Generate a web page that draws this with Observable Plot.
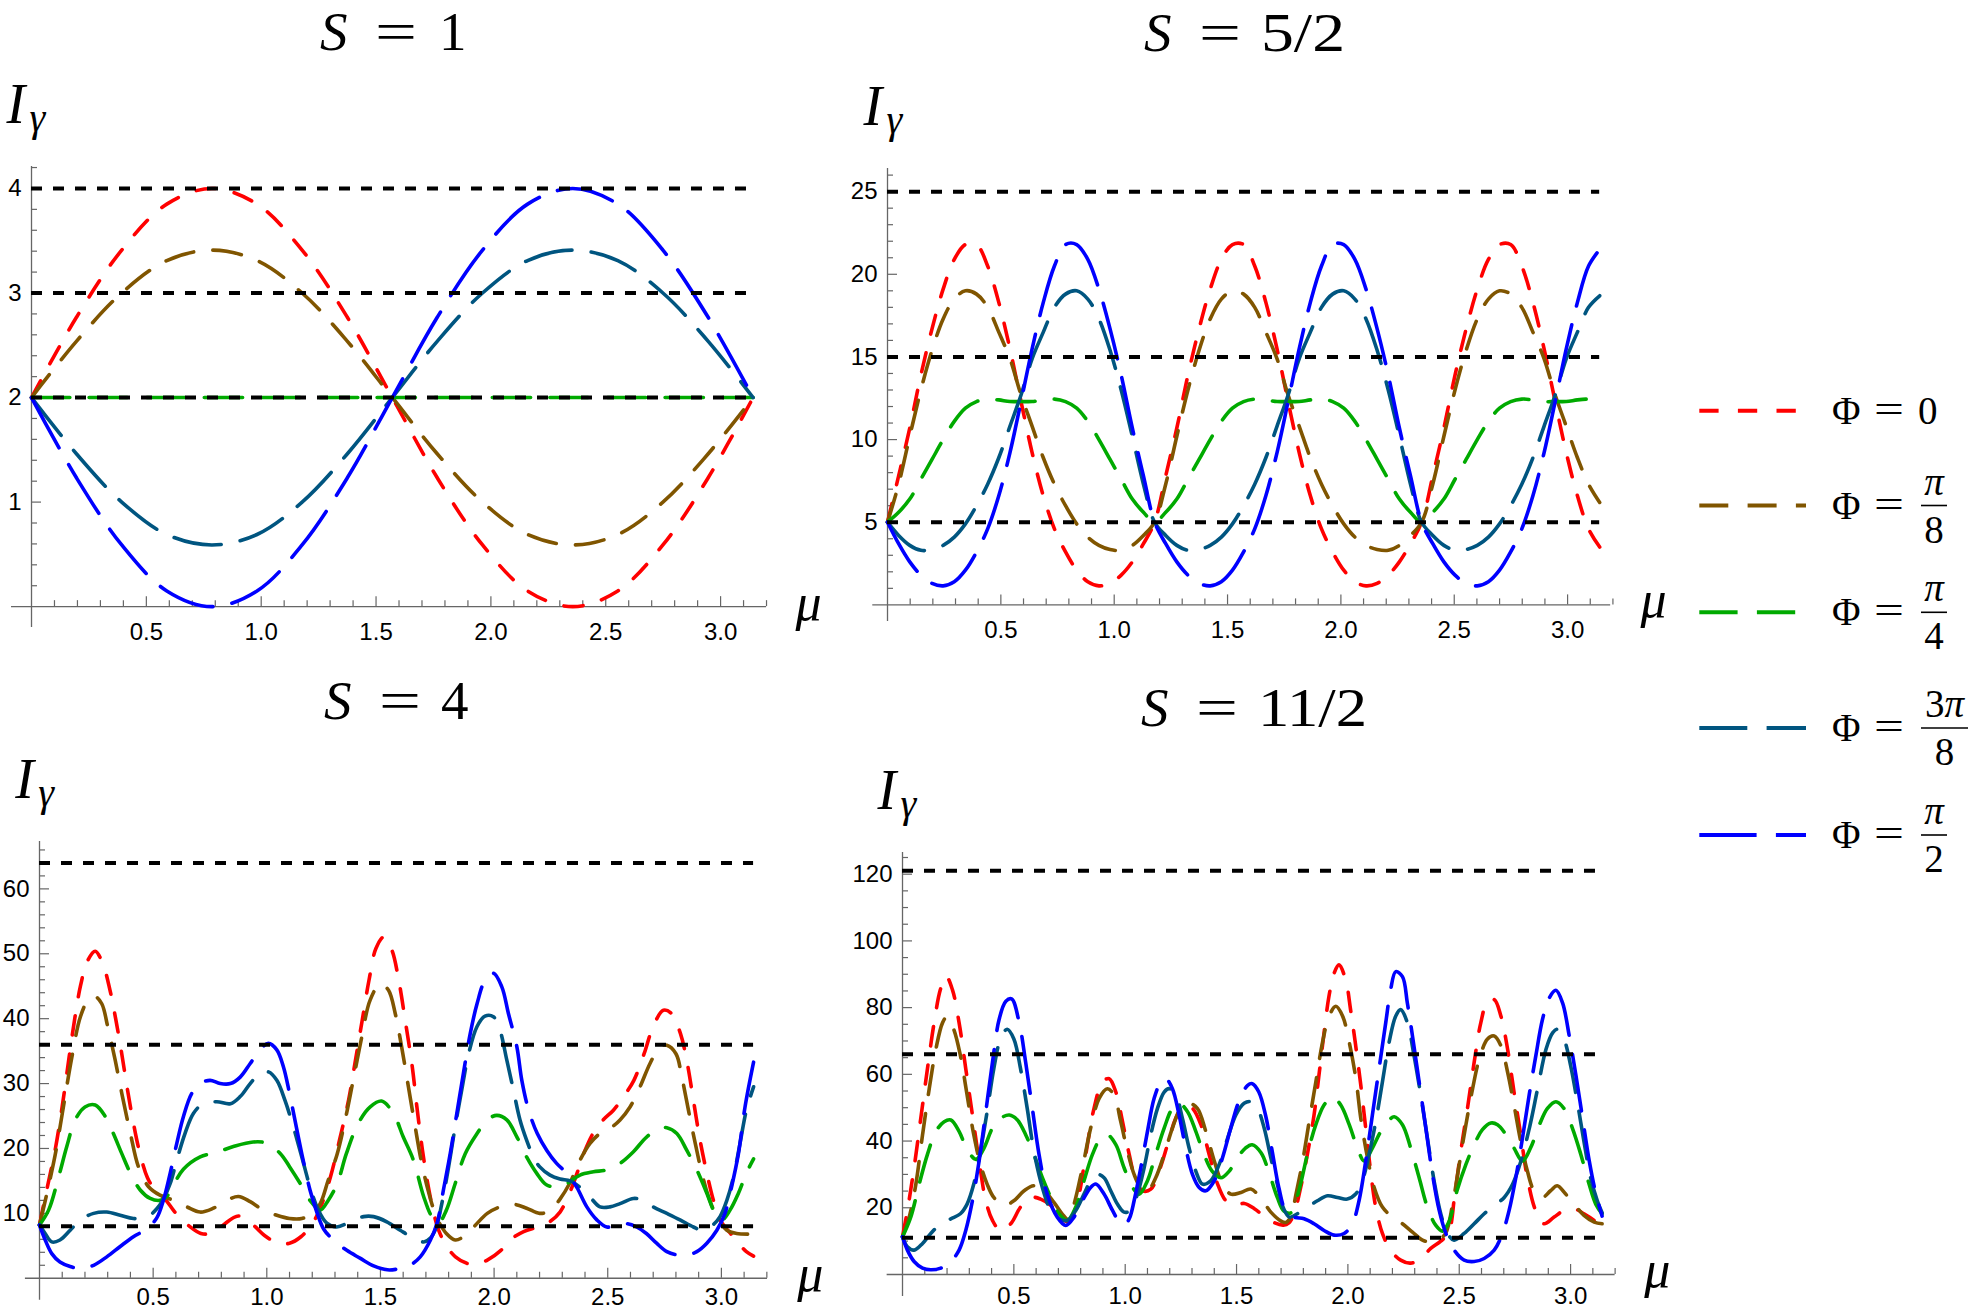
<!DOCTYPE html>
<html><head><meta charset="utf-8">
<script src="https://cdn.jsdelivr.net/npm/d3@7"></script>
<script src="https://cdn.jsdelivr.net/npm/@observablehq/plot@0.6"></script>
<style>
html,body{margin:0;padding:0;background:#fff;}
#page{position:relative;width:1970px;height:1312px;overflow:hidden;background:#fff;}
#page svg{overflow:visible;}
</style></head><body><div id="page"></div>
<script>
// ---------------- DATA ----------------
const phiLabels = ["0", "π/8", "π/4", "3π/8", "π/2"];
const xMajorTicks = [0.5, 1.0, 1.5, 2.0, 2.5, 3.0];

// S = 1
const s1_mu = [0, 0.19635, 0.3927, 0.58905, 0.7854, 0.98175, 1.1781, 1.37445, 1.5708, 1.76715, 1.9635, 2.15985, 2.3562, 2.55255, 2.7489, 2.94525, 3.14159];
const s1_red   = [2.0, 2.77, 3.41, 3.85, 4.0, 3.85, 3.41, 2.77, 2.0, 1.23, 0.59, 0.15, 0.0, 0.15, 0.59, 1.23, 2.0];
const s1_brown = [2.0, 2.54, 3.0, 3.31, 3.41, 3.31, 3.0, 2.54, 2.0, 1.46, 1.0, 0.69, 0.59, 0.69, 1.0, 1.46, 2.0];
const s1_green = [2.0, 2.0, 2.0, 2.0, 2.0, 2.0, 2.0, 2.0, 2.0, 2.0, 2.0, 2.0, 2.0, 2.0, 2.0, 2.0, 2.0];
const s1_teal  = [2.0, 1.46, 1.0, 0.69, 0.59, 0.69, 1.0, 1.46, 2.0, 2.54, 3.0, 3.31, 3.41, 3.31, 3.0, 2.54, 2.0];
const s1_blue  = [2.0, 1.23, 0.59, 0.15, 0.0, 0.15, 0.59, 1.23, 2.0, 2.77, 3.41, 3.85, 4.0, 3.85, 3.41, 2.77, 2.0];
const s1_levels = [2, 3, 4];
const s1_yTicks = [1, 2, 3, 4];

// S = 5/2  (samples every π/64)
const s52_mu = d3.range(65).map(k => k * Math.PI / 64);
const s52_red = [5.0,7.8,10.7,13.9,16.7,19.1,20.9,21.8,21.8,20.5,18.3,15.5,12.3,9.2,6.6,4.6,3.2,2.1,1.4,1.15,1.3,1.8,2.6,3.7,5.0,
 7.8,10.7,13.9,16.7,19.1,20.9,21.8,21.8,20.5,18.3,15.5,12.3,9.2,6.6,4.6,3.2,2.1,1.4,1.15,1.3,1.8,2.6,3.7,5.0,
 7.8,10.7,13.9,16.7,19.1,20.9,21.8,21.8,20.5,18.3,15.5,12.3,9.2,6.6,4.6,3.5];
const s52_brown = [5.0,7.3,10.2,13.0,15.4,17.3,18.5,19.0,18.8,18.0,16.5,14.9,12.7,10.8,8.9,7.3,6.0,4.9,4.1,3.6,3.35,3.3,3.6,4.2,5.0,
 7.3,10.2,13.0,15.4,17.3,18.5,19.0,18.8,18.0,16.5,14.9,12.7,10.8,8.9,7.3,6.0,4.9,4.1,3.6,3.35,3.3,3.6,4.2,5.0,
 7.3,10.2,13.0,15.4,17.3,18.5,19.0,18.8,18.0,16.5,14.9,12.7,10.8,8.9,7.3,6.2];
const s52_green = [5.0,5.6,6.4,7.6,8.8,10.0,11.1,11.9,12.3,12.45,12.4,12.3,12.3,12.3,12.4,12.45,12.3,11.9,11.1,10.0,8.8,7.6,6.4,5.6,5.0,
 5.6,6.4,7.6,8.8,10.0,11.1,11.9,12.3,12.45,12.4,12.3,12.3,12.3,12.4,12.45,12.3,11.9,11.1,10.0,8.8,7.6,6.4,5.6,5.0,
 5.6,6.4,7.6,8.8,10.0,11.1,11.9,12.3,12.45,12.4,12.3,12.3,12.3,12.4,12.45,12.4];
const s52_teal = [5.0,4.2,3.6,3.3,3.35,3.6,4.1,4.9,6.0,7.3,8.9,10.8,12.7,14.9,16.5,18.0,18.8,19.0,18.5,17.3,15.4,13.0,10.2,7.3,5.0,
 4.2,3.6,3.3,3.35,3.6,4.1,4.9,6.0,7.3,8.9,10.8,12.7,14.9,16.5,18.0,18.8,19.0,18.5,17.3,15.4,13.0,10.2,7.3,5.0,
 4.2,3.6,3.3,3.35,3.6,4.1,4.9,6.0,7.3,8.9,10.8,12.7,14.9,16.5,18.0,18.7];
const s52_blue = [5.0,3.7,2.6,1.8,1.3,1.15,1.4,2.1,3.2,4.6,6.6,9.2,12.3,15.5,18.3,20.5,21.8,21.8,20.9,19.1,16.7,13.9,10.7,7.8,5.0,
 3.7,2.6,1.8,1.3,1.15,1.4,2.1,3.2,4.6,6.6,9.2,12.3,15.5,18.3,20.5,21.8,21.8,20.9,19.1,16.7,13.9,10.7,7.8,5.0,
 3.7,2.6,1.8,1.3,1.15,1.4,2.1,3.2,4.6,6.6,9.2,12.3,15.5,18.3,20.5,21.5];
const s52_levels = [5, 15, 25];
const s52_yTicks = [5, 10, 15, 20, 25];

// S = 4  ([μ, I] pairs)
const s4_red = [[0,8.2],[0.025,12.5],[0.07,20],[0.1,26.5],[0.13,34],[0.155,40],[0.18,45],[0.21,48.8],[0.245,50.4],[0.28,48.3],[0.31,44.4],[0.335,40],[0.36,35],[0.385,29.5],[0.41,24.5],[0.44,19.5],[0.475,15.5],[0.51,13.5],[0.55,12.3],[0.6,10],[0.66,8],[0.71,6.9],[0.75,6.9],[0.8,8],[0.875,9.6],[0.94,8.2],[0.99,6.6],[1.05,5.4],[1.1,5.4],[1.15,6.4],[1.2,8.4],[1.235,10.8],[1.28,15.6],[1.32,21.3],[1.36,27.5],[1.39,33.6],[1.42,39.8],[1.45,46],[1.48,50.8],[1.515,52.6],[1.55,50.6],[1.58,46],[1.61,39.5],[1.64,32.6],[1.66,26.5],[1.685,19.7],[1.71,14.2],[1.735,10],[1.755,7.5],[1.79,5],[1.83,3.3],[1.88,2.3],[1.925,2.2],[1.97,2.8],[2.03,4.3],[2.07,5.9],[2.13,7.2],[2.19,7.9],[2.24,8.6],[2.29,10.2],[2.335,13.4],[2.365,16.2],[2.4,19.7],[2.44,22.6],[2.48,24.4],[2.525,25.9],[2.57,28],[2.615,30.5],[2.66,34.6],[2.7,38.8],[2.745,41.3],[2.78,40.8],[2.82,37.7],[2.85,33.1],[2.877,27.4],[2.906,21.3],[2.936,16.2],[2.965,12],[2.994,9],[3.04,6.9],[3.075,5.4],[3.11,4.1],[3.1416,3.4]];
const s4_brown = [[0,8.2],[0.032,13],[0.07,19.2],[0.105,26.4],[0.142,34],[0.18,40.3],[0.215,42.9],[0.245,43.4],[0.274,42.3],[0.3,38.8],[0.333,33.6],[0.362,28.5],[0.4,22.3],[0.435,17.2],[0.48,14.1],[0.53,12.8],[0.59,12],[0.648,11],[0.707,10.2],[0.765,10.8],[0.824,12],[0.875,12.6],[0.927,11.8],[0.985,10.5],[1.044,9.7],[1.1,9.2],[1.154,9.2],[1.2,10],[1.235,11.5],[1.27,15.1],[1.31,19.2],[1.345,24.4],[1.38,30.5],[1.418,37.2],[1.455,42.9],[1.5,45.4],[1.535,44.4],[1.565,40.8],[1.594,35.5],[1.623,29.5],[1.652,23.5],[1.68,18],[1.71,13.5],[1.735,10.5],[1.755,8.8],[1.79,6.9],[1.829,5.9],[1.865,6.4],[1.91,7.9],[1.97,10],[2.026,11],[2.085,11.4],[2.143,10.8],[2.2,10],[2.246,10.4],[2.29,12.2],[2.335,14.8],[2.378,18.2],[2.422,20.8],[2.466,22.3],[2.51,23.1],[2.554,24.4],[2.598,26.4],[2.642,29.5],[2.686,33.1],[2.73,35.7],[2.76,35.9],[2.8,34.6],[2.826,31],[2.855,25.9],[2.885,20.8],[2.914,16.2],[2.943,12.6],[2.98,9.5],[3.024,7.4],[3.067,6.9],[3.1416,6.8]];
const s4_green = [[0,8.2],[0.04,10.5],[0.084,15.6],[0.12,20.3],[0.157,24.4],[0.2,26.4],[0.245,26.7],[0.29,24.9],[0.325,22.3],[0.362,19.2],[0.4,16.2],[0.443,13.6],[0.487,12.3],[0.53,12],[0.56,12.6],[0.59,14.4],[0.633,16.8],[0.707,18.7],[0.78,19.4],[0.853,20.3],[0.94,21],[1.0,20.8],[1.06,19.2],[1.1,17.2],[1.147,14.6],[1.19,12],[1.235,10.5],[1.27,12],[1.31,14.6],[1.35,19.2],[1.403,23.9],[1.455,26.4],[1.505,27.3],[1.557,25.4],[1.6,21.8],[1.645,18.2],[1.69,12.6],[1.726,9.5],[1.755,8.5],[1.79,10.5],[1.829,14.6],[1.873,19.2],[1.925,22.3],[1.97,24.4],[2.012,25.1],[2.056,24.4],[2.1,21.8],[2.143,18.7],[2.187,16.2],[2.23,14.4],[2.275,14.1],[2.32,14.6],[2.378,15.9],[2.437,16.4],[2.496,16.7],[2.554,17.7],[2.613,19.5],[2.672,21.8],[2.73,23.1],[2.76,23.2],[2.804,22.3],[2.848,19.7],[2.892,16.7],[2.936,13.1],[2.972,10],[3.0,8.9],[3.038,10.5],[3.075,13.1],[3.11,16.2],[3.1416,18.4]];
const s4_teal = [[0,8.2],[0.025,6.9],[0.054,5.6],[0.09,5.9],[0.135,7.4],[0.18,9],[0.238,10],[0.296,10.2],[0.355,9.7],[0.413,9.2],[0.472,9.4],[0.516,10.7],[0.545,12.2],[0.575,14.6],[0.604,18.2],[0.64,22.3],[0.677,25.4],[0.72,26.9],[0.78,27.2],[0.84,26.9],[0.883,28],[0.927,30],[0.97,31.6],[1.007,31.8],[1.044,30.5],[1.08,27.4],[1.117,23.3],[1.154,18.7],[1.19,14.1],[1.227,10.5],[1.264,8.5],[1.308,7.9],[1.367,8.7],[1.425,9.5],[1.47,9.5],[1.528,8.7],[1.587,7.4],[1.645,6.2],[1.69,5.6],[1.72,6.2],[1.745,7.8],[1.77,11.5],[1.8,17.2],[1.829,23.4],[1.86,29.5],[1.888,34.6],[1.925,38.8],[1.96,40.4],[1.997,40.3],[2.026,38.2],[2.056,33.6],[2.085,29],[2.114,24.4],[2.143,21.3],[2.173,18.7],[2.2,17.2],[2.246,15.9],[2.29,15.3],[2.335,15],[2.378,14],[2.422,12.5],[2.466,11],[2.51,11],[2.554,11.5],[2.613,12.3],[2.657,12],[2.7,11],[2.76,10],[2.818,9],[2.877,7.9],[2.92,7.4],[2.965,8.3],[2.994,9.5],[3.024,12],[3.053,15.6],[3.082,20.8],[3.11,25.9],[3.1416,29.5]];
const s4_blue = [[0,8.2],[0.025,5.9],[0.054,3.8],[0.09,2.5],[0.135,1.8],[0.18,1.5],[0.238,2],[0.296,3.3],[0.355,4.9],[0.413,6.4],[0.472,7.6],[0.516,9.3],[0.545,12],[0.575,16.2],[0.604,20.8],[0.633,24.9],[0.67,28.5],[0.707,30],[0.75,30.5],[0.795,30],[0.84,30],[0.883,31],[0.927,33.1],[0.97,35.2],[1.007,36.2],[1.044,35.2],[1.073,32.6],[1.1,28.5],[1.13,23.3],[1.16,18.2],[1.19,13.6],[1.22,10.2],[1.25,7.6],[1.293,5.9],[1.352,4.3],[1.41,3.1],[1.47,1.9],[1.53,1.3],[1.587,1.5],[1.63,2],[1.675,3.3],[1.72,5.9],[1.75,8.6],[1.777,13.6],[1.807,19.2],[1.836,25.4],[1.865,31.6],[1.895,37.7],[1.925,42.3],[1.96,45.9],[1.997,47],[2.034,44.9],[2.063,40.8],[2.1,35.7],[2.122,30.5],[2.152,25.9],[2.19,22.3],[2.232,19.7],[2.275,17.7],[2.32,16.2],[2.364,14],[2.408,11],[2.452,9],[2.496,7.9],[2.54,8.2],[2.584,8.4],[2.627,7.9],[2.67,6.9],[2.715,5.4],[2.76,4.1],[2.804,3.6],[2.848,3.6],[2.892,4.1],[2.936,5.4],[2.98,7.4],[3.016,10],[3.045,14.1],[3.075,19.2],[3.104,26.4],[3.1416,33.3]];
const s4_levels = [8, 36, 64];
const s4_yTicks = [10, 20, 30, 40, 50, 60];

// S = 11/2  ([μ, I] pairs)
const s112_red = [[0,11.3],[0.022,19.2],[0.052,32],[0.082,46.8],[0.112,61.7],[0.142,75.5],[0.17,85.4],[0.195,89.5],[0.224,85.4],[0.254,75.5],[0.284,61.7],[0.314,47.8],[0.344,34],[0.374,22.1],[0.404,16.2],[0.44,13.2],[0.486,15.2],[0.53,20.2],[0.576,23.1],[0.62,22.6],[0.666,20.7],[0.71,17.2],[0.748,15.7],[0.786,22.1],[0.823,36],[0.86,49.8],[0.898,57.7],[0.928,58.7],[0.958,54.7],[0.988,45.8],[1.018,36],[1.048,28.1],[1.078,25.1],[1.115,25.6],[1.152,31],[1.19,38.9],[1.227,46.8],[1.265,50.8],[1.302,49.8],[1.34,44.9],[1.377,36],[1.415,27.1],[1.452,22.1],[1.49,20.7],[1.535,21.3],[1.58,19.7],[1.624,17.5],[1.67,15.5],[1.71,14.8],[1.735,15.5],[1.758,18.2],[1.788,26.1],[1.818,36],[1.848,47.8],[1.87,59.7],[1.893,72.5],[1.915,83.4],[1.938,90.3],[1.96,92.8],[1.99,88.3],[2.012,79.4],[2.035,68.6],[2.058,56.7],[2.08,43.9],[2.102,31],[2.125,20.2],[2.155,12.3],[2.192,7.3],[2.237,4.3],[2.282,3.4],[2.327,4.8],[2.372,7.8],[2.417,10],[2.452,12.5],[2.48,24],[2.507,37],[2.537,49.8],[2.567,63.6],[2.597,75.5],[2.627,81.9],[2.657,82.4],[2.687,77.5],[2.717,67.6],[2.746,54.7],[2.776,41.9],[2.806,29],[2.843,19.2],[2.88,15.2],[2.926,17.2],[2.97,19.2],[3.016,19.7],[3.06,18.2],[3.106,16.2],[3.1416,14]];
const s112_brown = [[0,11.3],[0.03,17.2],[0.06,27.1],[0.09,41.9],[0.12,55.7],[0.15,67.6],[0.18,75.5],[0.2,77.3],[0.23,73.5],[0.26,65.6],[0.29,53.8],[0.32,41.9],[0.35,33],[0.38,27.1],[0.41,23.1],[0.456,20.7],[0.5,22.1],[0.546,25.1],[0.59,26.6],[0.636,25.1],[0.68,21.6],[0.725,17.5],[0.745,16.5],[0.77,21],[0.808,32],[0.845,43.9],[0.883,52.8],[0.92,55.7],[0.95,53.8],[0.98,45.8],[1.01,37],[1.04,30],[1.07,26.1],[1.1,25.1],[1.137,29],[1.175,36],[1.212,43.9],[1.25,49.8],[1.287,51.3],[1.324,49.8],[1.362,42.9],[1.4,34],[1.437,27.1],[1.474,24.1],[1.52,24.6],[1.564,25.6],[1.61,22.8],[1.654,18.7],[1.7,16],[1.722,15.6],[1.745,17.5],[1.767,24.1],[1.797,34],[1.826,45.8],[1.856,57.7],[1.886,69.6],[1.916,77.5],[1.946,80.4],[1.976,77.5],[2.006,69.6],[2.036,58.7],[2.058,46.8],[2.088,35],[2.118,26.1],[2.155,20.2],[2.2,17.2],[2.245,15.2],[2.29,12.7],[2.335,10.3],[2.372,9.8],[2.41,10.5],[2.44,12.5],[2.47,21],[2.5,33],[2.53,44.9],[2.56,55.7],[2.59,64.6],[2.627,70.6],[2.657,71.5],[2.687,68.6],[2.717,60.7],[2.746,50.8],[2.776,39.9],[2.806,31],[2.836,25.1],[2.873,23.1],[2.91,25.1],[2.94,26.6],[2.978,24.1],[3.016,21.1],[3.06,17.7],[3.106,15.7],[3.1416,15.2]];
const s112_green = [[0,11.3],[0.037,17.2],[0.075,27.1],[0.112,36],[0.15,42.9],[0.187,45.8],[0.217,46.3],[0.254,42.9],[0.29,37.5],[0.33,34.5],[0.366,37.9],[0.404,43.9],[0.44,46.8],[0.48,47.8],[0.516,46.3],[0.553,41.9],[0.59,36],[0.628,29],[0.666,23.1],[0.703,18.2],[0.74,16.2],[0.778,20.2],[0.815,28.1],[0.853,36],[0.89,40.9],[0.92,41.9],[0.958,38.9],[0.995,32],[1.033,26.1],[1.063,24.1],[1.1,28.1],[1.137,36],[1.175,43.9],[1.212,49.8],[1.242,51.3],[1.28,48.8],[1.317,42.9],[1.354,36],[1.39,31],[1.43,29],[1.467,31],[1.504,35],[1.54,37.9],[1.57,38.9],[1.61,36.5],[1.646,30.5],[1.683,23.1],[1.713,19],[1.745,18.5],[1.78,25.1],[1.818,36],[1.856,44.9],[1.893,50.8],[1.93,53.3],[1.968,50.8],[2.006,44.9],[2.043,37.9],[2.073,34],[2.11,37.9],[2.148,42.9],[2.185,46.3],[2.208,47.3],[2.245,44.9],[2.282,37.9],[2.32,29],[2.357,20.2],[2.395,14.7],[2.425,13],[2.455,16],[2.49,25.1],[2.53,33],[2.567,38.9],[2.604,43.4],[2.642,45.4],[2.672,44.9],[2.71,41.9],[2.746,37.9],[2.784,34],[2.82,37.9],[2.86,44.9],[2.896,49.8],[2.934,51.8],[2.97,49.8],[3.008,43.9],[3.046,36],[3.083,27.1],[3.113,21.1],[3.1416,18.2]];
const s112_teal = [[0,11.3],[0.022,8.3],[0.052,7.3],[0.09,9.3],[0.127,12.3],[0.172,15.2],[0.217,16.7],[0.26,18.2],[0.29,21.1],[0.32,27.1],[0.35,37],[0.38,48.8],[0.41,61.7],[0.44,70.6],[0.47,73.5],[0.5,70.6],[0.53,61.7],[0.56,49.8],[0.59,37],[0.628,26.1],[0.666,19.2],[0.703,16.7],[0.74,16.2],[0.778,19.2],[0.815,24.1],[0.845,28.1],[0.875,30],[0.905,29],[0.935,25.1],[0.965,21.1],[0.995,18.7],[1.025,19.2],[1.055,24.1],[1.085,32],[1.115,41.9],[1.145,49.8],[1.175,54.7],[1.197,55.7],[1.227,53.8],[1.257,46.8],[1.287,37.9],[1.317,31],[1.347,27.1],[1.384,28.1],[1.422,33],[1.46,40.9],[1.497,47.8],[1.534,51.3],[1.564,51.8],[1.594,49.8],[1.624,43.9],[1.654,35],[1.683,27.1],[1.71,20],[1.737,17.2],[1.773,18.2],[1.818,20.2],[1.863,22.1],[1.908,23.6],[1.953,23.1],[1.997,22.6],[2.035,24.1],[2.065,28.1],[2.095,36],[2.125,45.8],[2.155,57.7],[2.185,69.6],[2.215,77.5],[2.237,79.4],[2.267,75.5],[2.297,65.6],[2.327,53.8],[2.357,40.9],[2.387,28.1],[2.417,18.2],[2.447,12.3],[2.477,10.3],[2.522,12.3],[2.567,15.2],[2.612,18.2],[2.657,20.7],[2.702,23.1],[2.74,27.1],[2.777,34],[2.815,43.9],[2.852,55.7],[2.89,67.6],[2.92,72.5],[2.94,73.5],[2.97,70.6],[3.0,62.7],[3.03,51.8],[3.06,39.9],[3.09,29],[3.12,22.1],[3.1416,18.5]];
const s112_blue = [[0,11.3],[0.022,7.3],[0.052,3.9],[0.09,1.9],[0.127,1.4],[0.172,1.9],[0.217,3.9],[0.254,7.3],[0.284,13.2],[0.314,22.1],[0.344,34],[0.374,48.8],[0.404,63.6],[0.434,76.5],[0.464,81.9],[0.49,82.6],[0.524,75.5],[0.553,63.6],[0.583,49.8],[0.613,36],[0.65,24.1],[0.695,17.2],[0.733,14.7],[0.77,17.2],[0.808,22.1],[0.845,26.1],[0.868,27.1],[0.905,24.1],[0.943,19.2],[0.98,15.2],[1.0,15],[1.02,17],[1.04,22.1],[1.07,32],[1.1,42.9],[1.13,52.8],[1.16,57.7],[1.182,58.7],[1.212,55.7],[1.242,47.8],[1.272,37.9],[1.302,30],[1.332,26.1],[1.362,25.1],[1.4,28.1],[1.437,35],[1.474,43.9],[1.51,51.8],[1.55,56.7],[1.571,57.2],[1.6,54.7],[1.63,47.8],[1.66,37],[1.69,26],[1.72,19.2],[1.758,17.2],[1.803,16.7],[1.848,15.2],[1.893,13.2],[1.938,11.8],[1.983,12.3],[2.02,15.2],[2.05,22.1],[2.08,34],[2.11,47.8],[2.14,61.7],[2.17,75.5],[2.192,85.4],[2.215,90.8],[2.245,89.3],[2.267,81.4],[2.29,71.5],[2.32,57.7],[2.35,43.9],[2.38,30],[2.41,19.2],[2.44,12.3],[2.477,7.3],[2.522,4.3],[2.567,3.9],[2.612,4.8],[2.657,7.3],[2.694,12.3],[2.724,19.2],[2.754,29],[2.784,40.9],[2.814,53.8],[2.844,65.6],[2.874,76.5],[2.904,82.9],[2.934,85.2],[2.964,81.4],[2.994,71.5],[3.024,59.7],[3.054,46.8],[3.084,34],[3.114,24.1],[3.1416,17.5]];
const s112_levels = [11, 66, 121];
const s112_yTicks = [20, 40, 60, 80, 100, 120];

// ---------------- STYLES / LAYOUT ----------------
const page = document.getElementById("page");
const SERIF = "'Liberation Serif', 'DejaVu Serif', serif";
const SANS = "'Liberation Sans', Arial, sans-serif";
const AX = "#666666";
const styles = [
  {color: "#ff0000", dash: "19.3,19.3"},
  {color: "#805500", dash: "29,19.3"},
  {color: "#00aa00", dash: "38.3,19.3"},
  {color: "#005580", dash: "48,19.3"},
  {color: "#0000ff", dash: "57.3,19.3"}
];
const zip = (mu, v) => mu.map((m, i) => [m, v[i]]);

const panels = [
  {x0: 30.5, xUnit: 229.7, y0: 606.5, yUnit: 104.55, yMax: 4.21, yBottom: -0.2, xLeft: -0.087, xRight: 3.2,
   yTicks: s1_yTicks, yMinorStep: 0.2, levels: s1_levels, xPad: 26,
   series: [zip(s1_mu, s1_red), zip(s1_mu, s1_brown), zip(s1_mu, s1_green), zip(s1_mu, s1_teal), zip(s1_mu, s1_blue)]},
  {x0: 887.4, xUnit: 226.7, y0: 604, yUnit: 16.53, yMax: 26.4, yBottom: -1.0, xLeft: -0.065, xRight: 3.19,
   yTicks: s52_yTicks, yMinorStep: 1, levels: s52_levels, xPad: 26,
   series: [zip(s52_mu, s52_red), zip(s52_mu, s52_brown), zip(s52_mu, s52_green), zip(s52_mu, s52_teal), zip(s52_mu, s52_blue)]},
  {x0: 39.3, xUnit: 227.3, y0: 1278, yUnit: 6.49, yMax: 67.3, yBottom: -3.4, xLeft: -0.062, xRight: 3.203,
   yTicks: s4_yTicks, yMinorStep: 2, levels: s4_levels, xPad: 20,
   series: [s4_red, s4_brown, s4_green, s4_teal, s4_blue]},
  {x0: 901.6, xUnit: 222.7, y0: 1274.2, yUnit: 3.336, yMax: 126.5, yBottom: -6.6, xLeft: -0.069, xRight: 3.2,
   yTicks: s112_yTicks, yMinorStep: 5, levels: s112_levels, xPad: 22,
   series: [s112_red, s112_brown, s112_green, s112_teal, s112_blue]}
];

const xMinor = d3.range(1, 33).map(i => i / 10).filter(v => Math.abs(v * 2 - Math.round(v * 2)) > 1e-6);
const fmt1 = d3.format(".1f");

function drawPanel(p) {
  const ml = 70, mr = 90, mt = 20, mb = 60;
  const xMax = 3.25;
  const fw = xMax * p.xUnit, fh = p.yMax * p.yUnit;
  const yMinor = d3.range(1, Math.floor(p.yMax / p.yMinorStep + 1e-6) + 1)
    .map(i => +(i * p.yMinorStep).toFixed(4))
    .filter(v => !p.yTicks.some(t => Math.abs(t - v) < 1e-6));
  const marks = [
    Plot.ruleY([0], {x1: p.xLeft, x2: p.xRight, stroke: AX, strokeWidth: 1.3}),
    Plot.ruleX([0], {y1: p.yBottom, y2: p.yMax, stroke: AX, strokeWidth: 1.3}),
    Plot.axisX(xMinor, {anchor: "bottom", tickSize: -6, tickFormat: () => "", stroke: AX, strokeWidth: 1.2, label: null}),
    Plot.axisX(xMajorTicks, {anchor: "bottom", tickSize: -10, tickPadding: p.xPad, tickFormat: fmt1, stroke: AX, strokeWidth: 1.2, fill: "#000", fontSize: 24, fontFamily: SANS, label: null}),
    Plot.axisY(yMinor, {anchor: "left", tickSize: -6, tickFormat: () => "", stroke: AX, strokeWidth: 1.2, label: null}),
    Plot.axisY(p.yTicks, {anchor: "left", tickSize: -10, tickPadding: 20, tickFormat: d => String(d), stroke: AX, strokeWidth: 1.2, fill: "#000", fontSize: 24, fontFamily: SANS, label: null})
  ];
  p.series.forEach((s, i) => {
    marks.push(Plot.line(s, {x: d => d[0], y: d => d[1], curve: "catmull-rom", stroke: styles[i].color, strokeWidth: 3.6, strokeDasharray: styles[i].dash}));
  });
  marks.push(Plot.ruleY(p.levels, {x1: 0, x2: Math.PI, stroke: "#000", strokeWidth: 4, strokeDasharray: "11,11"}));
  const svg = Plot.plot({
    width: ml + fw + mr, height: mt + fh + mb,
    marginLeft: ml, marginRight: mr, marginTop: mt, marginBottom: mb,
    x: {domain: [0, xMax], range: [ml, ml + fw]},
    y: {domain: [0, p.yMax], range: [mt + fh, mt]},
    style: {overflow: "visible", background: "transparent", fontFamily: SANS},
    marks
  });
  svg.style.position = "absolute";
  svg.style.left = (p.x0 - ml) + "px";
  svg.style.top = (p.y0 - fh - mt) + "px";
  page.appendChild(svg);
}
panels.forEach(drawPanel);

// ---------------- TEXT OVERLAY ----------------
const ov = d3.select(page).append("svg")
  .attr("width", 1970).attr("height", 1312)
  .style("position", "absolute").style("left", "0px").style("top", "0px");

function txt(x, y, s, o = {}) {
  const t = ov.append("text").attr("x", x).attr("y", y)
    .attr("font-family", o.family || SERIF).attr("font-size", o.size || 40)
    .attr("font-style", o.italic ? "italic" : "normal")
    .attr("text-anchor", o.anchor || "start").attr("fill", "#000").text(s);
  if (o.len) t.attr("textLength", o.len).attr("lengthAdjust", "spacingAndGlyphs");
  return t;
}

// titles
const TS = 55;
const titles = [
  {sx: 320, ex: 396, nx: 439, y: 50, num: "1", len: null},
  {sx: 1144, ex: 1220, nx: 1261, y: 50.5, num: "5/2", len: 84},
  {sx: 324, ex: 400, nx: 441, y: 719, num: "4", len: null},
  {sx: 1141, ex: 1217, nx: 1258, y: 726, num: "11/2", len: 109}
];
titles.forEach(t => {
  txt(t.sx, t.y, "S", {size: TS, italic: true});
  txt(t.ex - 21, t.y, "=", {size: TS, len: 42});
  txt(t.nx, t.y, t.num, {size: TS, len: t.len});
});

// axis labels I_gamma and mu
panels.forEach(p => {
  const ax = p.x0, top = p.y0 - p.yMax * p.yUnit;
  txt(ax - 24, top - 43, "I", {size: 56, italic: true});
  txt(ax - 1, top - 35, "γ", {size: 40, italic: true});
  const xr = p.x0 + p.xRight * p.xUnit;
  txt(xr + 30, p.y0 + 13, "μ", {size: 52, italic: true});
});

// legend
const legendRows = [410.7, 505.5, 612.3, 728, 835];
const legendFrac = [null, ["π", "8"], ["π", "4"], ["3π", "8"], ["π", "2"]];
legendRows.forEach((ry, i) => {
  ov.append("line").attr("x1", 1699.3).attr("x2", 1806).attr("y1", ry).attr("y2", ry)
    .attr("stroke", styles[i].color).attr("stroke-width", 4).attr("stroke-dasharray", styles[i].dash);
  txt(1832, ry + 13, "Φ", {size: 39});
  txt(1874, ry + 12, "=", {size: 39, len: 30});
  const f = legendFrac[i];
  if (!f) {
    txt(1918, ry + 13, "0", {size: 39});
  } else {
    const w = f[0].length > 1 ? 47 : 26;
    const cx = 1921 + w / 2;
    ov.append("line").attr("x1", 1921).attr("x2", 1921 + w).attr("y1", ry).attr("y2", ry)
      .attr("stroke", "#000").attr("stroke-width", 1.6);
    const num = ov.append("text").attr("x", cx).attr("y", ry - 11).attr("text-anchor", "middle")
      .attr("font-family", SERIF).attr("font-size", 39).attr("fill", "#000");
    if (f[0].length > 1) {
      num.append("tspan").text("3");
      num.append("tspan").attr("font-style", "italic").text("π");
    } else {
      num.append("tspan").attr("font-style", "italic").text("π");
    }
    txt(cx, ry + 37, f[1], {size: 39, anchor: "middle"});
  }
});
</script></body></html>
